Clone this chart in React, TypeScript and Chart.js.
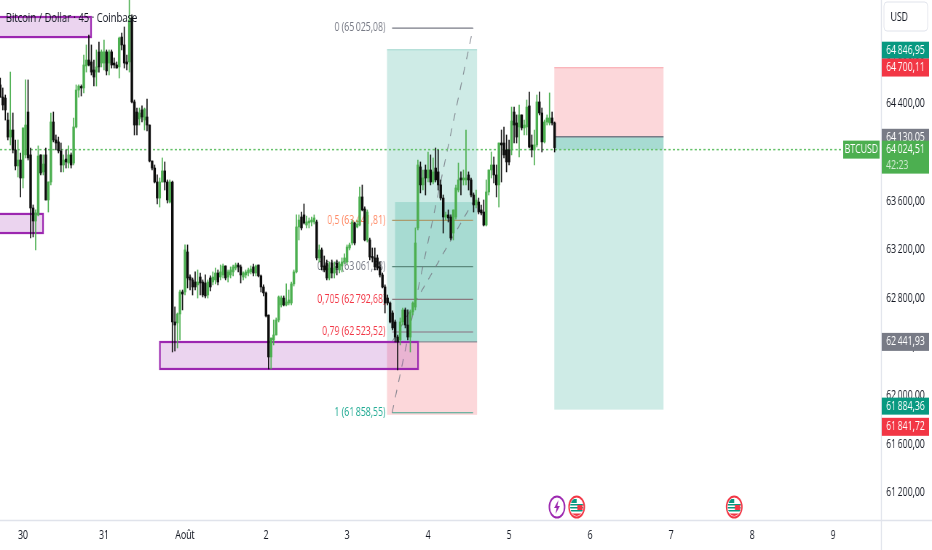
import React, { useEffect, useRef } from "react";
import { Chart, registerables } from "chart.js";

Chart.register(...registerables);

// Candles: 45-minute bars, 32 per day. Time unit: days since 30 July.
const BARS_PER_DAY = 32;
const BARS_BEFORE_FIRST_DAY = 9;
// The readings below were taken against a price ruler 16 units too low.
const READING_CALIBRATION = 16;

const opens = [
  64541,64441,64433,64252,64112,64170,64006,63874,63923,63775,
  63965,64318,63965,63528,63421,63471,63965,63825,63965,63594,
  63742,64236,64088,64072,63998,63882,63931,63898,63965,63898,
  64195,64499,64524,64516,64697,64746,64730,64664,64647,64812,
  64721,64721,64813,64721,64813,64721,64705,64689,64935,64870,
  64730,64730,65092,64401,64318,64261,64335,64252,64277,64211,
  63915,63857,63742,63610,63742,63833,63742,63577,63742,62590,
  62582,62656,62837,62837,63166,62960,62936,62919,62895,62960,
  62919,62911,62812,62952,62919,62936,62993,62960,62977,63051,
  62960,62977,63002,63034,63059,63043,62960,62977,62993,63002,
  63043,62993,63059,62969,62878,62829,62647,62302,62442,62483,
  62606,62730,62787,62730,62746,62746,62903,63002,63372,63454,
  63471,63388,63405,63413,63413,63413,63117,63183,63051,63075,
  62952,63075,62993,63075,63018,63051,63084,63084,63199,63240,
  63405,63372,63388,63619,63520,63265,63265,63125,63117,63117,
  63043,62977,62878,62787,62746,62664,62590,62466,62442,62590,
  62689,62565,62466,62672,62713,63364,63866,63718,63841,63775,
  63841,63742,63857,63825,63718,63610,63454,63471,63454,63322,
  63454,63676,63775,63759,63759,63800,63759,63635,63553,63577,
  63512,63495,63388,63660,63841,63882,63800,63718,64063,64063,
  64006,64006,64006,64318,64228,64195,64294,64187,64195,64368,
  64047,64006,64047,64401,64310,64072,64236,64228,64269,64228,
];
const closes = [
  64441,64376,64335,64112,64170,64006,63874,63923,63775,64187,
  64211,63940,63528,63421,63487,63956,63816,63890,63594,63742,
  64236,64088,64063,63998,63882,63923,63907,63965,63882,64195,
  64499,64532,64516,64705,64746,64705,64647,64606,64689,64689,
  64813,64813,64656,64813,64705,64705,64680,64927,64870,64721,
  64713,65075,64401,64211,64211,64310,64277,64343,64211,63915,
  63857,63742,63610,63742,63833,63742,63594,63742,62590,62565,
  62656,62837,62820,63183,62952,62936,62878,62878,62919,62911,
  62812,62804,62919,62878,62960,62993,62919,63002,63051,62952,
  63002,63018,63043,63059,63043,62977,62993,63002,63018,63026,
  62993,63051,62969,62878,62829,62639,62302,62458,62483,62606,
  62796,62787,62730,62755,62771,62903,63002,63372,63429,63364,
  63405,63413,63421,63429,63446,63117,63183,63043,63018,62952,
  63034,62993,63034,63034,63067,63084,63117,63207,63224,63413,
  63240,63396,63619,63512,63265,63495,63125,63117,63043,63034,
  62977,62878,62746,62746,62590,62541,62466,62425,62590,62689,
  62565,62466,62672,62746,63240,63882,63718,63775,63775,63841,
  63742,63825,63759,63718,63610,63454,63471,63446,63281,63512,
  63693,63759,63759,63775,63775,63759,63635,63553,63594,63495,
  63487,63388,63660,63841,63882,63800,63718,64063,64047,63965,
  63907,63907,64244,64211,64112,64294,64187,64211,64359,64030,
  64006,64047,64401,64310,64072,64236,64269,64269,64228,64025,
];
const highs = [
  64598,64516,64458,64310,64647,64310,64088,64088,63981,64187,
  64582,64582,64022,63553,63512,64039,63965,63965,64022,63742,
  64310,64318,64129,64112,64063,63965,64006,64039,63981,64269,
  64541,64541,64541,64787,64870,64952,64870,64746,64829,64894,
  64829,64911,64829,64829,64829,64763,64730,64935,64968,65018,
  64787,65256,65117,64417,64351,64351,64368,64351,64425,64211,
  63915,63882,63800,63775,63940,63907,63759,63759,63750,62714,
  62664,62853,62853,63224,63224,62977,62952,63002,63018,62993,
  62936,62977,62936,62969,63002,63034,63018,63059,63067,63051,
  63018,63043,63059,63075,63075,63059,63002,63018,63034,63051,
  63067,63059,63059,62977,62895,62837,62647,62458,62606,62623,
  62804,62804,62804,62903,62853,62919,63018,63471,63471,63495,
  63561,63462,63446,63454,63471,63429,63224,63199,63133,63100,
  63084,63100,63084,63100,63084,63117,63150,63224,63240,63429,
  63413,63429,63701,63717,63537,63512,63281,63199,63199,63141,
  63084,62993,62895,62812,62755,62681,62606,62483,62623,62705,
  62705,62689,62689,62755,63364,63923,63907,63841,63882,63989,
  63965,63940,64022,64006,63759,63635,63495,63512,63471,63512,
  63717,63898,63825,63841,64170,63825,63775,63652,63676,63610,
  63553,63594,63759,63841,63989,63948,63882,64063,64170,64195,
  64129,64088,64359,64359,64294,64376,64294,64252,64417,64483,
  64129,64170,64458,64483,64351,64252,64294,64475,64318,64236,
];
const lows = [
  64441,64335,64252,64088,64047,63981,63841,63783,63619,63693,
  63940,63923,63281,63290,63183,63463,63800,63800,63594,63495,
  63717,64072,64006,63981,63825,63825,63857,63857,63857,63882,
  64187,64441,64450,64475,64647,64697,64623,64532,64532,64647,
  64689,64664,64623,64623,64680,64680,64680,64598,64829,64680,
  64664,64647,64392,64129,64129,64211,64236,64170,64162,63907,
  63841,63734,63561,63536,63742,63676,63569,63569,62343,62351,
  62376,62442,62689,62812,62870,62853,62812,62853,62787,62812,
  62796,62787,62787,62845,62895,62903,62895,62936,62952,62936,
  62919,62952,62969,63018,63002,62911,62936,62952,62969,62985,
  62969,62969,62960,62837,62804,62631,62203,62203,62401,62483,
  62590,62713,62722,62722,62730,62730,62886,62993,63265,63347,
  63396,63364,63364,63380,63396,63100,63084,63018,63002,62936,
  62936,62952,62952,62977,62993,63002,63067,63067,63183,63224,
  63224,63364,63380,63504,63257,63248,63100,63084,63018,63018,
  62960,62870,62664,62730,62582,62524,62425,62195,62401,62565,
  62541,62442,62343,62647,62689,63347,63652,63676,63635,63742,
  63718,63726,63742,63676,63594,63322,63429,63413,63265,63265,
  63437,63660,63635,63717,63717,63676,63619,63495,63528,63479,
  63471,63380,63380,63635,63775,63734,63619,63536,63742,63940,
  63825,63882,63965,64063,64063,63948,64170,64129,64129,64022,
  63948,63882,64030,64294,63989,64063,64211,64211,64211,63989,
];

const dayTickValues = [0, 1, 2, 3, 4, 5, 6, 7, 8, 9, 10];
const dayTickLabels = ["30", "31", "Août", "2", "3", "4", "5", "6", "7", "8", "9"];
const priceTickValues = [61200, 61600, 62000, 62400, 62800, 63200, 63600, 64000, 64400, 64800];

const TITLE = "Bitcoin / Dollar · 45 · Coinbase";
const SYMBOL = "BTCUSD";
const COUNTDOWN = "42:23";
const CURRENCY = "USD";
const LAST_PRICE = 64024.51;

// Zones: [day from, day to, price top, price bottom]
const zoneA = [-0.5, 0.84, 65116, 64951];
const zoneB = [-0.5, 0.247, 63495, 63338];
const zoneC = [1.69, 4.877, 62441, 62219];

// Long position
const longDays = [4.494, 5.605];
const longInnerDay = 4.593;
const longInnerTop = 63593;
const longTarget = 64846.95;
const longEntry = 62441.93;
const longStop = 61841.72;

// Short position
const shortDays = [6.559, 7.907];
const shortStop = 64700.11;
const shortEntry = 64130.05;
const shortTarget = 61884.36;

// Fibonacci retracement
const fibDays = [4.556, 5.556];
const fibPrices = [65025.08, 63441.81, 63061.58, 62792.68, 62523.52, 61858.55];
const fibRatios = ["0", "0,5", "0,618", "0,705", "0,79", "1"];
const fibLabelColors = ["#787b86", "#ff8a65", "#787b86", "#f23645", "#f23645", "#22ab94"];
const fibLineColors = ["#787b86", "#ab9c6e", "#5d8a7e", "#8a7a80", "#8a7080", "#3fa98f"];

// Event markers on the time axis: day positions
const flashEventDay = 6.592;
const flagEventDays = [6.835, 8.78];

// Horizontal squeeze of the whole picture
const CANVAS_W = 1280;
const SQUEEZE = 932 / CANVAS_W;
const FONT = '"Open Sans", sans-serif';

const GREEN = "#4caf50";
const BLACK = "#0c0c0c";
const TEAL = "#089981";
const RED = "#f23645";
const GRAY = "#787b86";

const fmt = (v: number) => {
  const [i, d] = v.toFixed(2).split(".");
  return `${i.slice(0, -3)}\u2009${i.slice(-3)},${d}`;
};

const noPadding = (s: any) => {
  s.paddingTop = 0;
  s.paddingBottom = 0;
  s.paddingLeft = 0;
  s.paddingRight = 0;
};

const overlay = {
  id: "overlay",
  beforeDatasetsDraw(chart: any) {
    const { ctx, scales } = chart;
    const X = (d: number) => scales.x.getPixelForValue(d);
    const Y = (p: number) => scales.y.getPixelForValue(p);
    const fillBox = (d0: number, d1: number, p0: number, p1: number, c: string) => {
      ctx.fillStyle = c;
      ctx.fillRect(X(d0), Y(p0), X(d1) - X(d0), Y(p1) - Y(p0));
    };
    const hLine = (d0: number, d1: number, p: number, c: string, w = 1.2) => {
      ctx.strokeStyle = c;
      ctx.lineWidth = w;
      ctx.beginPath();
      ctx.moveTo(X(d0), Y(p));
      ctx.lineTo(X(d1), Y(p));
      ctx.stroke();
    };
    ctx.save();
    const tealFill = "rgba(8,153,129,0.2)";
    const redFill = "rgba(242,54,69,0.2)";

    // long position
    fillBox(longDays[0], longDays[1], longTarget, longEntry, tealFill);
    fillBox(longDays[0], longDays[1], longEntry, longStop, redFill);
    fillBox(longInnerDay, longDays[1], longInnerTop, longEntry, tealFill);
    hLine(longDays[0], longDays[1], longTarget, "rgba(8,153,129,0.25)");
    hLine(longDays[0], longDays[1], longEntry, "rgba(120,123,134,0.8)");

    // short position
    fillBox(shortDays[0], shortDays[1], shortStop, shortEntry, redFill);
    fillBox(shortDays[0], shortDays[1], shortEntry, shortTarget, tealFill);
    fillBox(shortDays[0], shortDays[1], shortEntry, LAST_PRICE, tealFill);
    hLine(shortDays[0], shortDays[1], shortStop, "rgba(242,54,69,0.3)");
    hLine(shortDays[0], shortDays[1], shortEntry, GRAY, 1.5);

    // fib
    fibPrices.forEach((p, i) => {
      hLine(fibDays[0], fibDays[1], p, fibLineColors[i]);
      ctx.font = `12px ${FONT}`;
      ctx.fillStyle = fibLabelColors[i];
      ctx.textAlign = "right";
      ctx.textBaseline = "middle";
      ctx.fillText(`${fibRatios[i]} (${fmt(p)})`, X(longDays[0]) - 2, Y(p));
    });
    ctx.strokeStyle = "rgba(120,123,134,0.85)";
    ctx.lineWidth = 1.2;
    ctx.setLineDash([8, 8]);
    ctx.beginPath();
    ctx.moveTo(X(fibDays[0]), Y(fibPrices[5]));
    ctx.lineTo(X(fibDays[1]), Y(fibPrices[0]));
    ctx.moveTo(X(fibDays[0]), Y(longEntry));
    ctx.lineTo(X(fibDays[1]), Y(longInnerTop));
    ctx.stroke();
    ctx.setLineDash([]);

    // zones
    [zoneA, zoneB, zoneC].forEach(([d0, d1, p0, p1]) => {
      ctx.fillStyle = "rgba(156,39,176,0.2)";
      ctx.strokeStyle = "#9c27b0";
      ctx.lineWidth = 2.2;
      ctx.fillRect(X(d0), Y(p0), X(d1) - X(d0), Y(p1) - Y(p0));
      ctx.strokeRect(X(d0), Y(p0), X(d1) - X(d0), Y(p1) - Y(p0));
    });

    // last price line
    ctx.strokeStyle = "#66c26a";
    ctx.lineWidth = 1.5;
    ctx.setLineDash([3, 3]);
    ctx.beginPath();
    ctx.moveTo(0, Y(LAST_PRICE));
    ctx.lineTo(chart.chartArea.right - 50, Y(LAST_PRICE));
    ctx.stroke();
    ctx.setLineDash([]);
    ctx.restore();
  },
  afterDatasetsDraw(chart: any) {
    const { ctx, scales, chartArea, width, height } = chart;
    const X = (d: number) => scales.x.getPixelForValue(d);
    const Y = (p: number) => scales.y.getPixelForValue(p);
    const right = chartArea.right;
    ctx.save();

    // title
    ctx.font = `13px ${FONT}`;
    ctx.fillStyle = "#131722";
    ctx.textAlign = "left";
    ctx.textBaseline = "middle";
    ctx.fillText(TITLE, 8, 18);

    // axis lines
    ctx.strokeStyle = "#e0e3eb";
    ctx.lineWidth = 1.4;
    ctx.beginPath();
    ctx.moveTo(right + 0.5, 0);
    ctx.lineTo(right + 0.5, height);
    ctx.moveTo(0, chartArea.bottom + 0.5);
    ctx.lineTo(width, chartArea.bottom + 0.5);
    ctx.stroke();

    // price tags
    const tag = (top: number, h: number, bg: string, txt: string) => {
      ctx.fillStyle = bg;
      ctx.fillRect(right + 1, top, 65, h);
      ctx.fillStyle = "#fff";
      ctx.font = `12px ${FONT}`;
      ctx.textAlign = "left";
      ctx.textBaseline = "middle";
      ctx.fillText(txt, right + 7, top + h / 2);
    };
    tag(Y(longTarget) - 8, 17, TEAL, fmt(longTarget));
    tag(Y(shortStop) - 9, 18, RED, fmt(shortStop));
    tag(Y(shortEntry) - 8, 17, GRAY, fmt(shortEntry));
    tag(Y(longEntry) - 9, 18, GRAY, fmt(longEntry));
    tag(Y(shortTarget) - 12, 17, TEAL, fmt(shortTarget));
    tag(Y(longStop) + 3, 18, RED, fmt(longStop));

    // last price tag
    const ly = Y(LAST_PRICE) - 9;
    ctx.fillStyle = GREEN;
    ctx.fillRect(right + 1, ly, 65, 33);
    ctx.fillStyle = "#fff";
    ctx.fillText(fmt(LAST_PRICE), right + 7, ly + 9);
    ctx.fillStyle = "rgba(255,255,255,0.75)";
    ctx.fillText(COUNTDOWN, right + 7, ly + 25);
    ctx.fillStyle = GREEN;
    ctx.fillRect(right - 52, ly, 50, 18);
    ctx.fillStyle = "#fff";
    ctx.textAlign = "center";
    ctx.fillText(SYMBOL, right - 27, ly + 9);

    // currency button
    ctx.fillStyle = "#fff";
    ctx.strokeStyle = "#e0e3eb";
    ctx.lineWidth = 1;
    ctx.beginPath();
    ctx.roundRect(right + 4, 2, 60, 29, 4);
    ctx.fill();
    ctx.stroke();
    ctx.fillStyle = "#131722";
    ctx.textAlign = "left";
    ctx.font = `12px ${FONT}`;
    ctx.fillText(CURRENCY, right + 13, 18);

    // event icons
    const cy = chartArea.bottom - 13;
    const ring = (x: number, c: string) => {
      ctx.beginPath();
      ctx.arc(x, cy, 10.5, 0, Math.PI * 2);
      ctx.fillStyle = "#fff";
      ctx.fill();
      ctx.strokeStyle = c;
      ctx.lineWidth = 2;
      ctx.stroke();
    };
    const fx = X(flashEventDay);
    ring(fx, "#9c27b0");
    ctx.fillStyle = "#9c27b0";
    ctx.beginPath();
    ctx.moveTo(fx + 2, cy - 7);
    ctx.lineTo(fx - 4, cy + 1);
    ctx.lineTo(fx - 0.5, cy + 1);
    ctx.lineTo(fx - 2, cy + 7);
    ctx.lineTo(fx + 4, cy - 1);
    ctx.lineTo(fx + 0.5, cy - 1);
    ctx.closePath();
    ctx.fill();
    flagEventDays.forEach((d) => {
      const x = X(d);
      ring(x, RED);
      ctx.save();
      ctx.beginPath();
      ctx.arc(x, cy, 9, 0, Math.PI * 2);
      ctx.clip();
      ctx.fillStyle = TEAL;
      ctx.fillRect(x - 9, cy - 8, 9, 4);
      ctx.fillRect(x - 9, cy - 3, 18, 1.5);
      ctx.fillRect(x - 9, cy, 18, 1.5);
      ctx.fillRect(x - 9, cy + 3, 18, 1.5);
      ctx.fillStyle = RED;
      ctx.fillRect(x + 1, cy - 2, 7, 5);
      ctx.fillRect(x - 9, cy + 6.5, 18, 4);
      ctx.restore();
    });
    ctx.restore();
  },
};

export default function App() {
  const ref = useRef<HTMLCanvasElement>(null);
  useEffect(() => {
    document.body.style.margin = "0";
    const times = opens.map((_, i) => (i - BARS_BEFORE_FIRST_DAY) / BARS_PER_DAY);
    const cal = (v: number) => v + READING_CALIBRATION;
    const colorOf = (ctx: any) =>
      closes[ctx.dataIndex] >= opens[ctx.dataIndex] ? GREEN : BLACK;
    const chart = new Chart(ref.current as HTMLCanvasElement, {
      type: "bar",
      data: {
        datasets: [
          {
            label: "Corps",
            data: times.map((t, i) => ({ x: t, y: [cal(opens[i]), cal(closes[i])] })),
            backgroundColor: colorOf,
            barThickness: 2.8,
            minBarLength: 1.5,
            order: 1,
            grouped: false,
          },
          {
            label: "Mèches",
            data: times.map((t, i) => ({ x: t, y: [cal(lows[i]), cal(highs[i])] })),
            backgroundColor: colorOf,
            barThickness: 1,
            order: 2,
            grouped: false,
          },
        ] as any,
      },
      options: {
        animation: false,
        responsive: false,
        devicePixelRatio: 1,
        events: [],
        layout: { padding: 0 },
        plugins: { legend: { display: false }, tooltip: { enabled: false } },
        scales: {
          x: {
            type: "linear",
            offset: false,
            min: -23 / 81,
            max: 858 / 81,
            grid: { display: false, offset: false, drawTicks: false, tickLength: 0 },
            border: { display: false },
            afterBuildTicks: (s: any) => {
              s.ticks = dayTickValues.map((value) => ({ value }));
            },
            afterFit: (s: any) => {
              s.height = 30;
              noPadding(s);
            },
            ticks: {
              autoSkip: false,
              maxRotation: 0,
              padding: 8,
              color: "#131722",
              font: { family: FONT, size: 12 },
              callback: (v: any) => dayTickLabels[dayTickValues.indexOf(Number(v))] ?? "",
            },
          },
          y: {
            type: "linear",
            position: "right",
            min: 60976,
            max: 65256,
            grid: { display: false, drawTicks: false, tickLength: 0 },
            border: { display: false },
            afterBuildTicks: (s: any) => {
              s.ticks = priceTickValues.map((value) => ({ value }));
            },
            afterFit: (s: any) => {
              s.width = 70;
              noPadding(s);
            },
            ticks: {
              autoSkip: false,
              padding: 7,
              color: "#131722",
              font: { family: FONT, size: 12 },
              callback: (v: any) => fmt(Number(v)),
            },
          },
        },
      } as any,
      plugins: [overlay],
    });
    return () => chart.destroy();
  }, []);
  return (
    <div style={{ position: "fixed", left: 0, top: 0, width: 932, height: 550, overflow: "hidden", background: "#fff" }}>
      <div style={{ width: CANVAS_W, height: 550, transform: `scaleX(${SQUEEZE})`, transformOrigin: "0 0" }}>
        <canvas ref={ref} width={CANVAS_W} height={550} style={{ display: "block" }} />
      </div>
    </div>
  );
}
